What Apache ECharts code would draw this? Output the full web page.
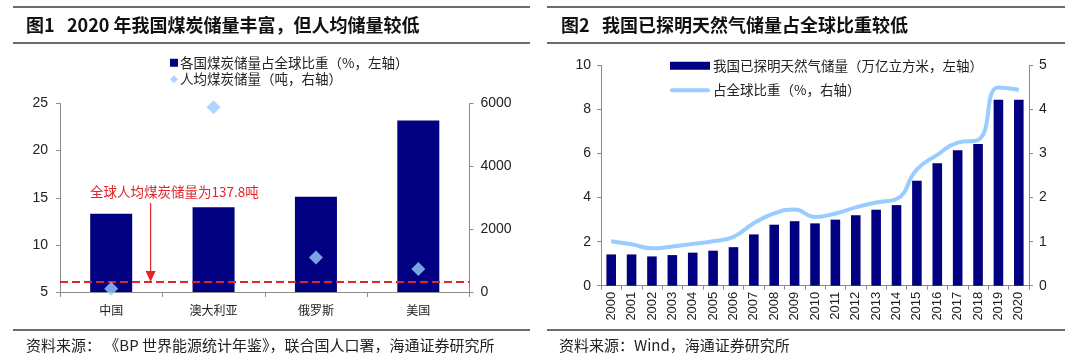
<!DOCTYPE html>
<html><head><meta charset="utf-8">
<script src="https://cdn.jsdelivr.net/npm/echarts@6/dist/echarts.min.js"></script>
<style>html,body{margin:0;padding:0;background:#fff}#c{width:1080px;height:358px}</style>
</head><body><div id="c"></div>
<script>
// ---- Chart 1 data ----
const countries = ['中国', '澳大利亚', '俄罗斯', '美国'];
const coalShare = [13.3, 14.0, 15.1, 23.2];          // % of world, left axis
const coalPerCapita = [100, 5880, 1100, 730];         // tonnes per person, right axis
const worldAvgLineLevel = 320;                         // drawn level of the world-average dashed line (right axis)
const coalLeftTicks = { min: 5, max: 25, interval: 5 };
const coalRightTicks = { min: 0, max: 6000, interval: 2000 };

// ---- Chart 2 data ----
const years = ['2000','2001','2002','2003','2004','2005','2006','2007','2008','2009','2010',
               '2011','2012','2013','2014','2015','2016','2017','2018','2019','2020'];
const gasReserves = [1.42, 1.42, 1.33, 1.39, 1.5, 1.59, 1.75, 2.33, 2.77, 2.93, 2.83,
                     3.0, 3.2, 3.45, 3.66, 4.77, 5.56, 6.15, 6.44, 8.44, 8.44];   // tcm, left axis
const gasShare = [1.01, 0.94, 0.85, 0.89, 0.95, 1.01, 1.11, 1.42, 1.64, 1.73, 1.56,
                  1.64, 1.78, 1.89, 1.97, 2.64, 2.97, 3.25, 3.31, 4.5, 4.45];     // %, right axis
const gasLeftTicks = { min: 0, max: 10, interval: 2 };
const gasRightTicks = { min: 0, max: 5, interval: 1 };

const NAVY = '#000080', LIGHT = '#99CCFF', RED = '#E0262B', AXIS = '#8c8c8c';
const CJK = '"Noto Sans CJK SC"', LAT = '"Liberation Sans", Arial';

function valAxis(grid, ticks, pos, margin, size) {
  return {
    type: 'value', gridIndex: grid, position: pos,
    min: ticks.min, max: ticks.max, interval: ticks.interval,
    axisLine: { show: true, lineStyle: { color: AXIS, width: 1 } },
    axisTick: { show: true, length: 4, lineStyle: { color: AXIS } },
    splitLine: { show: false },
    axisLabel: { color: '#222', fontSize: size, fontFamily: LAT, margin: margin,
                 formatter: function (v) { return String(v); } }
  };
}

const chart = echarts.init(document.getElementById('c'), null, { renderer: 'canvas' });

const s1 = '各国煤炭储量占全球比重（%，左轴）';
const s2 = '人均煤炭储量（吨，右轴）';
const s3 = '我国已探明天然气储量（万亿立方米，左轴）';
const s4 = '占全球比重（%，右轴）';

const option = {
  animation: false,
  backgroundColor: '#fff',
  grid: [
    { left: 60, right: 610.5, top: 103.5, bottom: 66 },
    { left: 601, right: 51, top: 65.5, bottom: 72.3 }
  ],
  legend: [
    {
      left: 165, top: 51, orient: 'vertical', itemGap: 3, itemWidth: 8, itemHeight: 8,
      textStyle: { fontSize: 13.5, fontFamily: CJK, color: '#222', padding: [0, 0, 0, -3] },
      data: [{ name: s1, icon: 'rect', itemStyle: { color: NAVY } },
             { name: s2, icon: 'diamond', itemStyle: { color: LIGHT } }],
      selectedMode: false
    },
    {
      left: 665, top: 54, orient: 'vertical', itemGap: 11, itemWidth: 40, itemHeight: 8,
      symbolKeepAspect: true,
      textStyle: { fontSize: 13.5, fontFamily: CJK, color: '#222', padding: [0, 0, 0, -2] },
      data: [{ name: s3, icon: 'rect', itemStyle: { color: NAVY } },
             { name: s4, icon: 'path://M2,0 L38,0 A2,2 0 0 1 38,4 L2,4 A2,2 0 0 1 2,0 Z', itemStyle: { color: LIGHT } }],
      selectedMode: false
    }
  ],
  xAxis: [
    {
      type: 'category', gridIndex: 0, data: countries,
      axisLine: { lineStyle: { color: AXIS } },
      axisTick: { show: true, length: 5, lineStyle: { color: AXIS } },
      axisLabel: { color: '#222', fontSize: 12, fontFamily: CJK, margin: 12 }
    },
    {
      type: 'category', gridIndex: 1, data: years,
      axisLine: { lineStyle: { color: AXIS } },
      axisTick: { show: true, length: 4, lineStyle: { color: AXIS } },
      axisLabel: { color: '#222', fontSize: 13, fontFamily: LAT, rotate: 90, margin: 6, interval: 0 }
    }
  ],
  yAxis: [
    valAxis(0, coalLeftTicks, 'left', 12, 14),
    valAxis(0, coalRightTicks, 'right', 11, 14),
    valAxis(1, gasLeftTicks, 'left', 10, 14),
    valAxis(1, gasRightTicks, 'right', 10, 14)
  ],
  series: [
    {
      name: s1, type: 'bar', xAxisIndex: 0, yAxisIndex: 0, data: coalShare,
      barWidth: 42, itemStyle: { color: NAVY }, silent: true
    },
    {
      name: s2, type: 'scatter', xAxisIndex: 0, yAxisIndex: 1, data: coalPerCapita,
      symbol: 'diamond', symbolSize: 14, itemStyle: { color: LIGHT }, z: 5, silent: true,
      markLine: {
        silent: true, symbol: 'none', label: { show: false },
        lineStyle: { color: RED, type: [8, 4], width: 2 },
        data: [{ yAxis: worldAvgLineLevel }]
      }
    },
    {
      name: s3, type: 'bar', xAxisIndex: 1, yAxisIndex: 2, data: gasReserves,
      barWidth: '47%', itemStyle: { color: NAVY }, silent: true
    },
    {
      name: s4, type: 'line', xAxisIndex: 1, yAxisIndex: 3, data: gasShare,
      smooth: 0.5, symbol: 'none', showSymbol: false, lineStyle: { color: LIGHT, width: 4 },
      itemStyle: { color: LIGHT }, z: 5, silent: true
    }
  ]
};
chart.setOption(option);

// ---- frame: rules, titles, sources, annotation ----
const ruleStyle = { stroke: '#6b6b6b', lineWidth: 2 };
const yLine = chart.convertToPixel({ yAxisIndex: 1 }, worldAvgLineLevel);
const xa = chart.convertToPixel({ xAxisIndex: 0 }, countries[0]);
const xb = chart.convertToPixel({ xAxisIndex: 0 }, countries[1]);
const ax = xa + (xb - xa) * 0.385;

const graphics = [
  { type: 'line', shape: { x1: 13, y1: 7, x2: 530, y2: 7 }, style: ruleStyle },
  { type: 'line', shape: { x1: 13, y1: 43, x2: 530, y2: 43 }, style: ruleStyle },
  { type: 'line', shape: { x1: 13, y1: 330, x2: 530, y2: 330 }, style: ruleStyle },
  { type: 'line', shape: { x1: 547, y1: 7, x2: 1065, y2: 7 }, style: ruleStyle },
  { type: 'line', shape: { x1: 547, y1: 43, x2: 1065, y2: 43 }, style: ruleStyle },
  { type: 'line', shape: { x1: 547, y1: 330, x2: 1065, y2: 330 }, style: ruleStyle },
  { type: 'text', style: { x: 26, y: 25, text: '图1', font: 'bold 18px ' + CJK, fill: '#111', verticalAlign: 'middle' } },
  { type: 'text', style: { x: 67, y: 25, text: '2020 年我国煤炭储量丰富，但人均储量较低', font: 'bold 18px ' + CJK, fill: '#111', verticalAlign: 'middle' } },
  { type: 'text', style: { x: 561, y: 25, text: '图2', font: 'bold 18px ' + CJK, fill: '#111', verticalAlign: 'middle' } },
  { type: 'text', style: { x: 602, y: 25, text: '我国已探明天然气储量占全球比重较低', font: 'bold 18px ' + CJK, fill: '#111', verticalAlign: 'middle' } },
  { type: 'text', style: { x: 26, y: 345, text: '资料来源： 《BP 世界能源统计年鉴》，联合国人口署，海通证券研究所', font: '15px ' + CJK, fill: '#222', verticalAlign: 'middle' } },
  { type: 'text', style: { x: 559, y: 345, text: '资料来源：Wind，海通证券研究所', font: '15px ' + CJK, fill: '#222', verticalAlign: 'middle' } },
  { type: 'text', style: { x: 90, y: 192, text: '全球人均煤炭储量为137.8吨', font: '13.5px ' + CJK, fill: RED, verticalAlign: 'middle' } },
  { type: 'line', shape: { x1: ax, y1: 203, x2: ax, y2: yLine - 9 }, style: { stroke: RED, lineWidth: 1.2 } },
  { type: 'polygon', shape: { points: [[ax - 5, yLine - 11], [ax + 5, yLine - 11], [ax, yLine]] }, style: { fill: RED } }
];
chart.setOption({ graphic: graphics });
</script>
</body></html>
